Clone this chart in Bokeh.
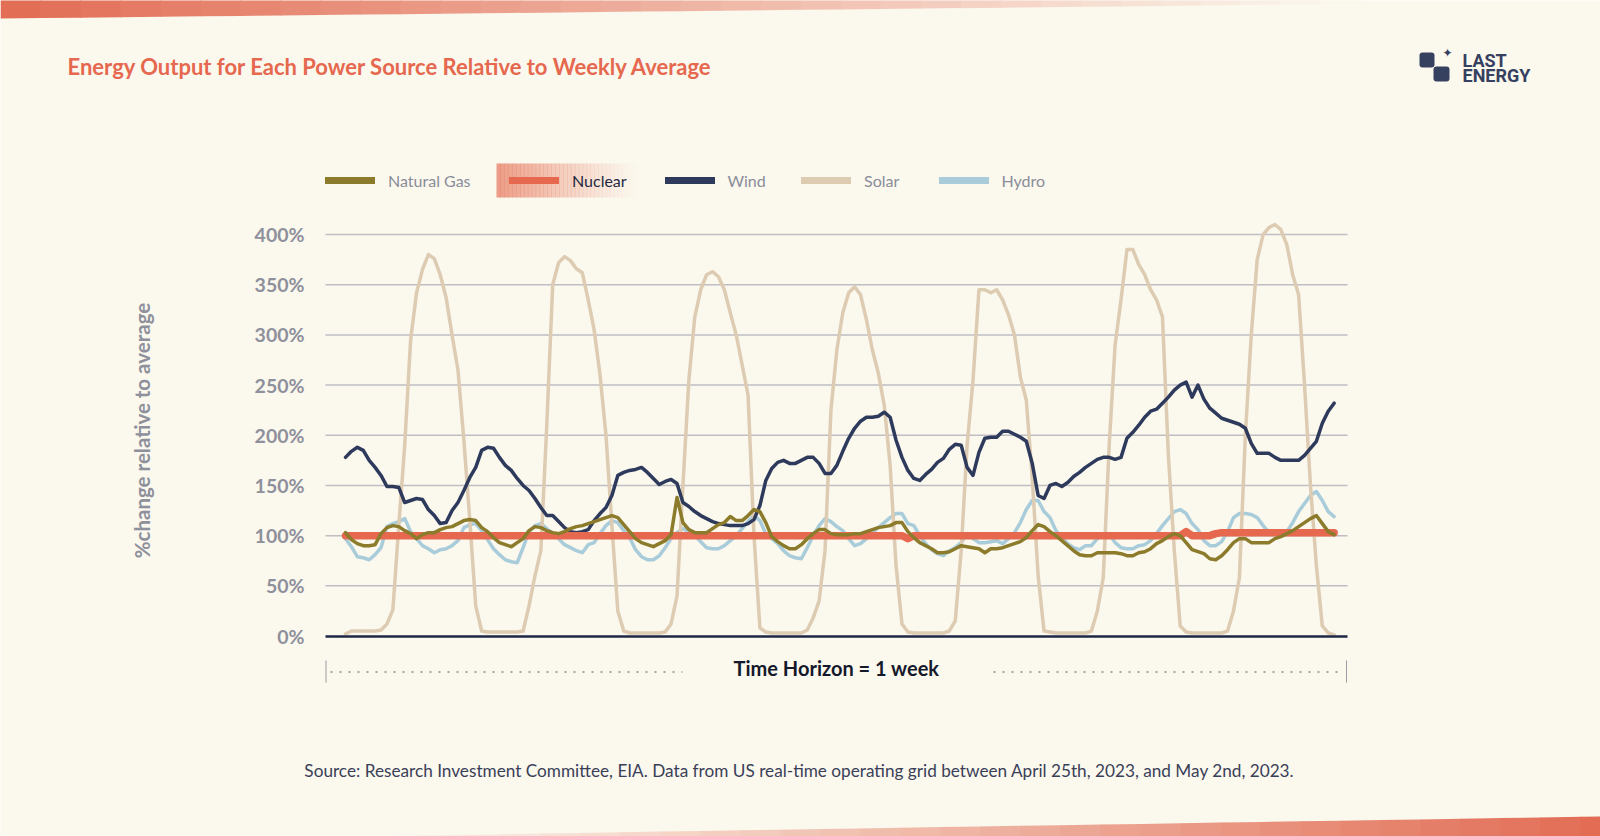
from bokeh.plotting import figure
from bokeh.models import (Range1d, FixedTicker, Label, Legend, LegendItem, PolyAnnotation,
                          BoxAnnotation, Arrow, ColumnDataSource)
from bokeh.core.properties import value
from bokeh.embed import file_html
from bokeh.resources import INLINE

# ---------------- data (hourly, one week, % of weekly average) ----------------
hours = list(range(168))

natural_gas = [
    103, 96, 92, 90, 90, 91, 102, 108, 110, 109, 105, 102, 97, 101, 103, 103, 106, 108, 109, 112, 115, 116, 115, 108,
    104, 98, 93, 91, 89, 93, 97, 105, 109, 108, 105, 103, 102, 104, 107, 109, 110, 112, 114, 116, 118, 120, 118, 111,
    104, 97, 93, 91, 89, 92, 95, 101, 138, 113, 106, 103, 103, 103, 107, 111, 113, 119, 115, 115, 120, 126, 124, 113,
    99, 94, 90, 87, 87, 91, 97, 102, 106, 106, 102, 101, 101, 101, 102, 102, 104, 106, 108, 109, 110, 113, 113, 104,
    98, 93, 90, 87, 83, 83, 84, 87, 90, 89, 88, 87, 83, 87, 87, 88, 90, 92, 94, 98, 105, 111, 109, 104,
    100, 95, 90, 85, 81, 80, 80, 83, 83, 83, 83, 82, 80, 80, 83, 84, 87, 92, 95, 99, 102, 100, 93, 86,
    84, 82, 77, 76, 80, 86, 93, 97, 97, 93, 93, 93, 93, 97, 99, 102, 105, 109, 113, 117, 120, 112, 104, 101,
]

nuclear = [
    100, 100, 100, 100, 100, 100, 100, 100, 100, 100, 100, 100, 100, 100, 100, 100, 100, 100, 100, 100, 100, 100, 100, 100,
    100, 100, 100, 100, 100, 100, 100, 100, 100, 100, 100, 100, 100, 100, 100, 100, 100, 100, 100, 100, 100, 100, 100, 100,
    100, 100, 100, 100, 100, 100, 100, 100, 100, 100, 100, 100, 100, 100, 100, 100, 100, 100, 100, 100, 100, 100, 100, 100,
    100, 100, 100, 100, 100, 100, 100, 100, 100, 100, 100, 100, 100, 100, 100, 100, 100, 100, 100, 100, 100, 100, 100, 97,
    100, 100, 100, 100, 100, 100, 100, 100, 100, 100, 100, 100, 100, 100, 100, 100, 100, 100, 100, 100, 100, 100, 100, 100,
    100, 100, 100, 100, 100, 100, 100, 100, 100, 100, 100, 100, 100, 100, 100, 100, 100, 100, 100, 100, 100, 100, 104, 100,
    100, 100, 100, 102, 103, 103, 103, 103, 103, 103, 103, 103, 103, 103, 103, 103, 103, 103, 103, 103, 103, 103, 103, 103,
]

wind = [
    178, 184, 188, 185, 175, 168, 160, 149, 149, 148, 133, 135, 137, 136, 126, 120, 112, 113, 125, 133, 145, 158, 168, 185,
    188, 187, 178, 170, 165, 157, 150, 145, 137, 128, 120, 120, 114, 108, 104, 103, 104, 106, 115, 122, 128, 140, 160, 163,
    165, 166, 168, 163, 157, 151, 154, 156, 152, 133, 129, 124, 120, 117, 114, 112, 111, 110, 110, 110, 112, 116, 130, 155,
    167, 173, 175, 172, 172, 175, 178, 178, 172, 162, 162, 170, 184, 197, 207, 214, 218, 218, 219, 223, 218, 195, 178, 165,
    157, 155, 161, 166, 173, 177, 186, 191, 190, 168, 160, 183, 197, 198, 198, 204, 204, 201, 198, 194, 172, 140, 137, 150,
    152, 149, 153, 159, 163, 168, 172, 176, 178, 178, 176, 178, 197, 203, 210, 218, 224, 226, 232, 238, 245, 250, 253, 238,
    250, 236, 227, 222, 217, 215, 213, 211, 207, 192, 182, 182, 182, 178, 175, 175, 175, 175, 180, 187, 194, 212, 224, 232,
]

solar = [
    2, 5, 5, 5, 5, 5, 6, 12, 26, 110, 190, 295, 342, 365, 380, 376, 360, 337, 300, 265, 195, 115, 30, 5,
    4, 4, 4, 4, 4, 4, 5, 30, 60, 85, 210, 350, 372, 378, 374, 366, 362, 335, 305, 260, 200, 110, 25, 5,
    3, 3, 3, 3, 3, 3, 4, 12, 40, 150, 255, 318, 345, 360, 363, 358, 345, 322, 300, 270, 240, 100, 8, 4,
    3, 3, 3, 3, 3, 3, 6, 18, 35, 85, 225, 285, 322, 342, 348, 340, 315, 285, 262, 230, 170, 70, 12, 4,
    3, 3, 3, 3, 3, 3, 5, 15, 85, 190, 255, 345, 345, 342, 345, 335, 320, 300, 258, 235, 158, 60, 5, 4,
    3, 3, 3, 3, 3, 3, 5, 25, 58, 190, 290, 335, 385, 385, 370, 360, 345, 335, 318, 180, 85, 10, 4, 3,
    3, 3, 3, 3, 3, 5, 25, 58, 200, 300, 375, 400, 407, 410, 405, 390, 360, 340, 250, 150, 70, 10, 3, 1,
]

hydro = [
    97, 89, 79, 78, 76, 81, 88, 109, 112, 114, 117, 104, 97, 90, 87, 83, 86, 87, 90, 95, 108, 111, 112, 105,
    96, 87, 81, 76, 74, 73, 88, 104, 110, 112, 107, 102, 97, 91, 88, 85, 83, 91, 93, 102, 110, 115, 113, 105,
    98, 86, 79, 76, 76, 80, 88, 97, 103, 107, 104, 100, 94, 88, 87, 87, 90, 95, 100, 107, 114, 120, 115, 102,
    97, 92, 85, 80, 78, 77, 88, 100, 110, 117, 114, 109, 105, 97, 90, 92, 97, 103, 108, 113, 118, 122, 122, 112,
    110, 100, 92, 86, 82, 80, 85, 88, 93, 102, 97, 93, 93, 94, 95, 92, 97, 103, 113, 126, 135, 135, 124, 118,
    105, 98, 92, 88, 86, 90, 90, 97, 101, 102, 93, 88, 87, 87, 90, 91, 95, 102, 110, 117, 124, 126, 122, 112,
    106, 95, 90, 90, 94, 104, 118, 122, 122, 121, 118, 110, 103, 101, 100, 104, 113, 124, 132, 140, 144, 135, 124, 119,
]

series_names = ["Natural Gas", "Nuclear", "Wind", "Solar", "Hydro"]
series_colors = ["#8B7B2B", "#E5684F", "#2E3A5C", "#DDCBB2", "#A9CCDA"]

y_ticks = [0, 50, 100, 150, 200, 250, 300, 350, 400]
y_tick_labels = ["0%", "50%", "100%", "150%", "200%", "250%", "300%", "350%", "400%"]

title_text = "Energy Output for Each Power Source Relative to Weekly Average"
y_label_text = "%change relative to average"
x_label_text = "Time Horizon = 1 week"
source_text = ("Source: Research Investment Committee, EIA. Data from US real-time operating grid "
               "between April 25th, 2023, and May 2nd, 2023.")

# ---------------- layout / style ----------------
BG = "#FBF8EE"
BG_RGB = (251, 248, 238)
ACCENT_RGB = (226, 108, 84)
PAGE_W, PAGE_H = 1600, 836
H0_X = 345            # page x of hour 0
PX_PER_H = 5.92
ZERO_Y = 635.5        # page y of 0 %
PX_PER_PCT = 1.0036
CHART_L, CHART_R = 325, 1347
FONT = "Lato"
NAVY = "#36405F"
PX = dict(x_range_name="px_x", y_range_name="px_y")


def mix(c0, c1, t):
    t = max(0.0, min(1.0, t))
    return "#%02x%02x%02x" % tuple(int(round(a + (b - a) * t)) for a, b in zip(c0, c1))


def hx(X):   # page x -> main x data units
    return (X - H0_X) / PX_PER_H


def py(Y):   # page y -> main y data units
    return (ZERO_Y - Y) / PX_PER_PCT


x_start = hx(0)
x_end = hx(PAGE_W)
y_start = py(PAGE_H)
y_end = py(0)
cx0 = hx(CHART_L)
cx1 = hx(CHART_R)

p = figure(width=PAGE_W, height=PAGE_H, output_backend="svg", toolbar_location=None,
           x_range=Range1d(x_start, x_end), y_range=Range1d(y_start, y_end),
           min_border=0, min_border_left=0, min_border_right=0,
           min_border_top=0, min_border_bottom=0,
           background_fill_color=BG, border_fill_color=BG, outline_line_color=None)
p.extra_x_ranges = {"px_x": Range1d(0, PAGE_W)}
p.extra_y_ranges = {"px_y": Range1d(PAGE_H, 0)}
p.xgrid.visible = False
p.ygrid.visible = False

# ---- decorative gradient bands (top-left and bottom-right wedges) ----
for xa in range(0, PAGE_W, 40):
    xb = xa + 41
    t = (xa + 20) / 1350
    if t >= 1:
        continue
    p.add_layout(PolyAnnotation(xs=[hx(xa), hx(xb), hx(xb), hx(xa)],
                                ys=[py(-10), py(-10), py(18 - 0.0108 * xb), py(18 - 0.0108 * xa)],
                                fill_color=mix(ACCENT_RGB, BG_RGB, t), fill_alpha=1.0,
                                line_color=None))
for xa in range(340, PAGE_W, 40):
    xb = xa + 41
    t = (PAGE_W - (xa + 20)) / 1243
    yt_a = min(836, 836 - 20 * (xa - 357) / 1243)
    yt_b = min(836, 836 - 20 * (xb - 357) / 1243)
    p.add_layout(PolyAnnotation(xs=[hx(xa), hx(xb), hx(xb), hx(xa)],
                                ys=[py(850), py(850), py(yt_b), py(yt_a)],
                                fill_color=mix(ACCENT_RGB, BG_RGB, t), fill_alpha=1.0,
                                line_color=None))

# ---- title ----
p.add_layout(Label(x=67, y=66, text=title_text, text_font=FONT, text_font_style="bold",
                   text_font_size="22px", text_color="#E5684F",
                   text_align="left", text_baseline="middle", **PX))

# ---- logo ----
p.add_layout(BoxAnnotation(left=1419, right=1434, top=52, bottom=67,
                           fill_color=NAVY, fill_alpha=1, line_color=None, border_radius=3, **PX))
p.add_layout(BoxAnnotation(left=1433, right=1449, top=66, bottom=81,
                           fill_color=NAVY, fill_alpha=1, line_color=None, border_radius=3, **PX))
p.add_layout(Label(x=1447, y=52.5, text="\u2726", text_font="DejaVu Sans",
                   text_font_size="12px", text_color=NAVY,
                   text_align="center", text_baseline="middle", **PX))
p.add_layout(Label(x=1462, y=59.5, text="LAST", text_font="Roboto", text_font_style="bold",
                   text_font_size="18px", text_color=NAVY,
                   text_align="left", text_baseline="middle", **PX))
p.add_layout(Label(x=1462, y=74.5, text="ENERGY", text_font="Roboto", text_font_style="bold",
                   text_font_size="18px", text_color=NAVY,
                   text_align="left", text_baseline="middle", **PX))

# ---- highlight behind "Nuclear" legend entry ----
hl_left, hl_right = 496, 637
n_sl = 36
for k in range(n_sl):
    a = hl_left + (hl_right - hl_left) * k / n_sl
    b = hl_left + (hl_right - hl_left) * (k + 1) / n_sl + 0.6
    alpha = 0.85 * (1 - k / n_sl) ** 1.3
    p.add_layout(BoxAnnotation(left=a, right=b, top=163, bottom=197,
                               fill_color="#E98C74", fill_alpha=alpha, line_color=None, **PX))

# ---- axes (fixed inside the full-page frame) ----
p.yaxis.fixed_location = cx0
p.yaxis.bounds = (0, 410)
p.yaxis.ticker = FixedTicker(ticks=y_ticks)
p.yaxis.major_label_overrides = dict(zip(y_ticks, y_tick_labels))
p.yaxis.axis_line_color = None
p.yaxis.major_tick_line_color = None
p.yaxis.minor_tick_line_color = None
p.yaxis.major_tick_out = 0
p.yaxis.major_tick_in = 0
p.yaxis.major_label_standoff = 21
p.yaxis.major_label_text_font = FONT
p.yaxis.major_label_text_font_style = "bold"
p.yaxis.major_label_text_font_size = "19.5px"
p.yaxis.major_label_text_color = "#8E909B"
p.yaxis.axis_label = y_label_text
p.yaxis.axis_label_text_font = FONT
p.yaxis.axis_label_text_font_style = "bold"
p.yaxis.axis_label_text_font_size = "20.5px"
p.yaxis.axis_label_text_color = "#8E909B"
p.yaxis.axis_label_standoff = 98

p.xaxis.fixed_location = 0
p.xaxis.bounds = (cx0, cx1)
p.xaxis.ticker = FixedTicker(ticks=[])
p.xaxis.axis_line_color = "#1E2745"
p.xaxis.axis_line_width = 2.5
p.xaxis.major_tick_line_color = None
p.xaxis.minor_tick_line_color = None
p.xaxis.major_tick_out = 0
p.xaxis.major_tick_in = 0
p.xaxis.major_label_standoff = 0
p.xaxis.axis_label = x_label_text
p.xaxis.axis_label_text_font = FONT
p.xaxis.axis_label_text_font_style = "bold"
p.xaxis.axis_label_text_font_size = "20px"
p.xaxis.axis_label_text_color = "#14182B"
p.xaxis.axis_label_standoff = 19

# ---- horizontal grid lines across the chart area only ----
grid_src = ColumnDataSource(dict(y=y_ticks[1:], x0=[cx0] * (len(y_ticks) - 1),
                                 x1=[cx1] * (len(y_ticks) - 1)))
p.segment(x0="x0", x1="x1", y0="y", y1="y", source=grid_src,
          line_color="#BEBEC3", line_width=1.5, level="underlay")

# ---- data lines (Hydro at the bottom ... Natural Gas on top) ----
src = ColumnDataSource(dict(hour=hours, gas=natural_gas, nuclear=nuclear,
                            wind=wind, solar=solar, hydro=hydro))
cols = ["gas", "nuclear", "wind", "solar", "hydro"]
widths = [3.5, 7.5, 3.5, 3.5, 3.5]
for i in [4, 3, 2, 1, 0]:
    p.line("hour", cols[i], source=src, line_color=series_colors[i],
           line_width=widths[i], line_join="round", line_cap="round")

# ---- legend: single-item legends with thick rounded swatches ----
glyph_starts = [325, 509, 664.5, 801, 938.5]
offscreen = ColumnDataSource(dict(x=[-1000, -999], y=[-1000, -1000]))
for i, name in enumerate(series_names):
    dummy = p.line("x", "y", source=offscreen, line_color=series_colors[i], line_width=7,
                   line_cap="round")
    lg = Legend(items=[LegendItem(label=value(name), renderers=[dummy])],
                location=(glyph_starts[i], PAGE_H - 190), orientation="horizontal",
                glyph_width=50, glyph_height=20, label_height=20, label_standoff=13,
                padding=0, margin=0, spacing=0,
                background_fill_alpha=0, border_line_alpha=0,
                label_text_font=FONT, label_text_font_size="16px",
                label_text_color="#23293F" if name == "Nuclear" else "#8A8D99")
    p.add_layout(lg)

# ---- time-horizon dotted rules and end ticks ----
for xa, xb in [(330, 682), (993, 1342)]:
    p.add_layout(Arrow(x_start=xa, y_start=671.5, x_end=xb, y_end=671.5,
                       start=None, end=None,
                       line_color="#A3A4AC", line_width=2, line_dash="2 7", **PX))
for xt in [325.5, 1346]:
    p.add_layout(Arrow(x_start=xt, y_start=660, x_end=xt, y_end=682,
                       start=None, end=None, line_color="#9A9BA3", line_width=1, **PX))

# ---- source note ----
p.add_layout(Label(x=799, y=769.5, text=source_text, text_font=FONT,
                   text_font_size="17.2px", text_color="#3A3F58",
                   text_align="center", text_baseline="middle", **PX))

open("out.html", "w").write(file_html(p, INLINE))
